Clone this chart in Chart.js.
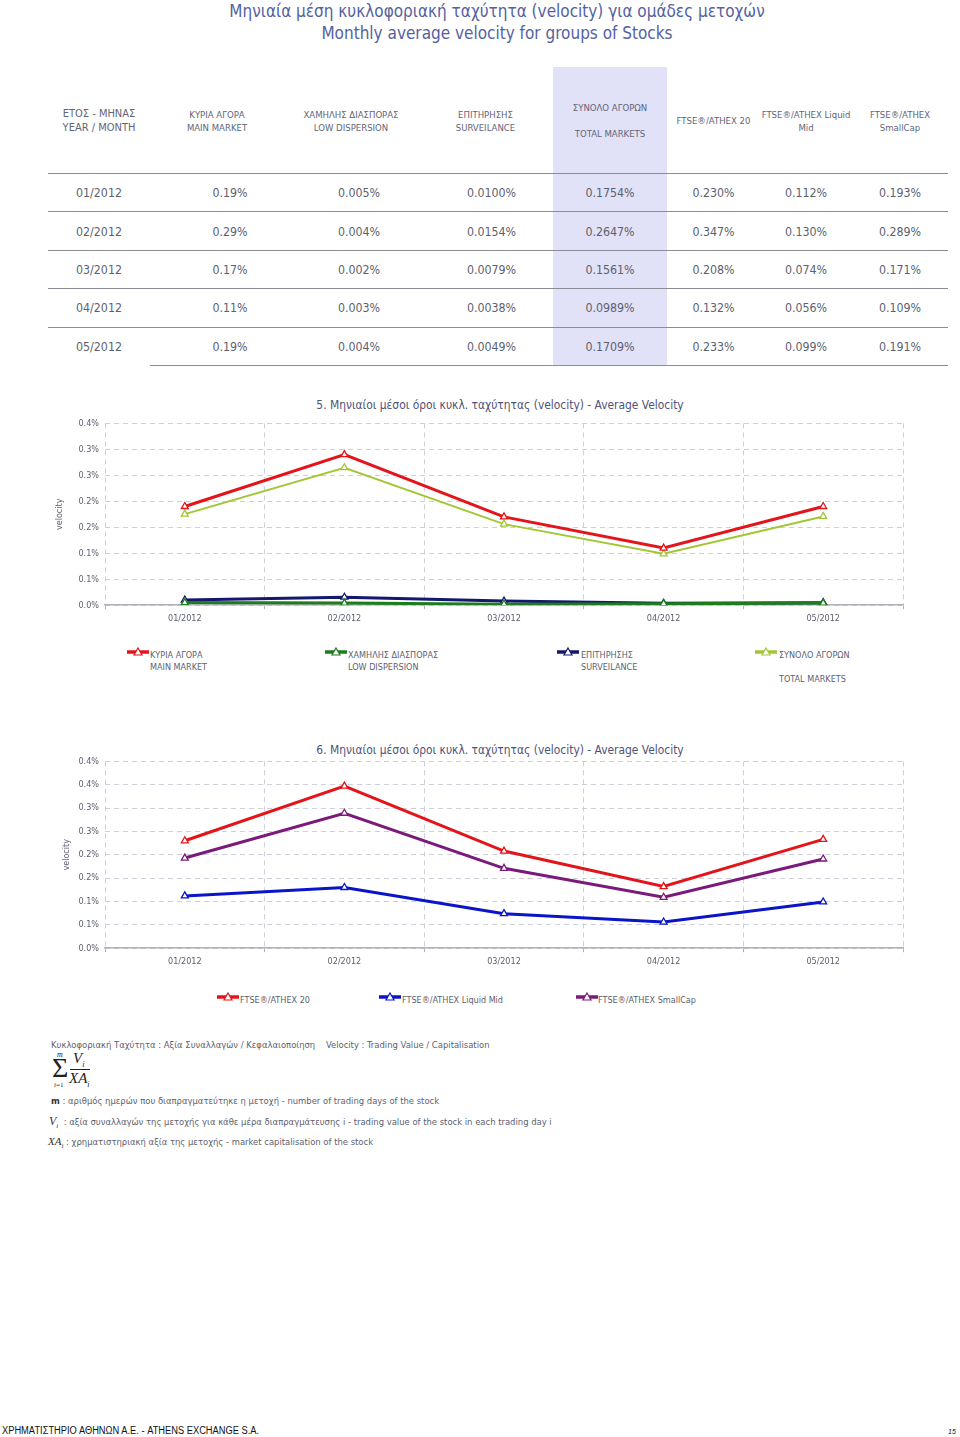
<!DOCTYPE html>
<html>
<head>
<meta charset="utf-8">
<script src="https://cdn.jsdelivr.net/npm/chart.js@4.4.0/dist/chart.umd.min.js"></script>
<style>
  body { margin: 0; background: #fff; width: 960px; height: 1437px; position: relative; overflow: hidden;
         font-family: "DejaVu Sans Condensed", "DejaVu Sans", sans-serif; color: #5c5f70; }
  .abs { position: absolute; }
  #title { left: 0; width: 994px; top: 0; text-align: center; color: #5462a0; font-size: 17px; line-height: 22px; }
  table { position: absolute; left: 48px; top: 67px; width: 900px; border-collapse: collapse; table-layout: fixed; }
  th { font-weight: normal; font-size: 9.5px; line-height: 13px; height: 105px; color: #62657a; padding: 1px 0 0 0;
       border-bottom: 1.5px solid #8c8c96; }
  td { font-size: 12.3px; height: 36.4px; text-align: center; padding: 1px 0 0 0; border-bottom: 1.5px solid #8c8c96; color: #5c5f70; }
  tr:last-child td.first { border-bottom: none; }
  .shade { background: #e1e1f7; }
  .ctitle { left: 0; width: 1000px; text-align: center; font-size: 11.9px; color: #4f5377; }
  .leg { font-size: 9px; line-height: 12px; color: #5c5f70; }
  .leg svg { position: absolute; left: 0; top: -3px; }
  .note { font-size: 9.4px; color: #5c5f70; white-space: nowrap; }
</style>
</head>
<body>
<div id="title" class="abs">Μηνιαία μέση κυκλοφοριακή ταχύτητα (velocity) για ομάδες μετοχών<br>Monthly average velocity for groups of Stocks</div>

<table id="tbl">
  <colgroup>
    <col style="width:102px"><col style="width:134px"><col style="width:134px"><col style="width:135px">
    <col style="width:114px"><col style="width:93px"><col style="width:92px"><col style="width:96px">
  </colgroup>
  <thead>
    <tr>
      <th style="font-size:11px;line-height:14px">ΕΤΟΣ - ΜΗΝΑΣ<br>YEAR / MONTH</th>
      <th>ΚΥΡΙΑ ΑΓΟΡΑ<br>MAIN MARKET</th>
      <th>ΧΑΜΗΛΗΣ ΔΙΑΣΠΟΡΑΣ<br>LOW DISPERSION</th>
      <th>ΕΠΙΤΗΡΗΣΗΣ<br>SURVEILANCE</th>
      <th class="shade">ΣΥΝΟΛΟ ΑΓΟΡΩΝ<br><br>TOTAL MARKETS</th>
      <th>FTSE®/ATHEX 20</th>
      <th>FTSE®/ATHEX Liquid<br>Mid</th>
      <th>FTSE®/ATHEX<br>SmallCap</th>
    </tr>
  </thead>
  <tbody id="tbody"></tbody>
</table>

<div class="abs ctitle" style="top:398px">5. Μηνιαίοι μέσοι όροι κυκλ. ταχύτητας (velocity) - Average Velocity</div>
<canvas id="chart1" class="abs" style="left:50px;top:412px"></canvas>
<div id="legend1"></div>

<div class="abs ctitle" style="top:743px">6. Μηνιαίοι μέσοι όροι κυκλ. ταχύτητας (velocity) - Average Velocity</div>
<canvas id="chart2" class="abs" style="left:57px;top:750px"></canvas>
<div id="legend2"></div>

<div class="abs note" style="left:51px;top:1039px">Κυκλοφοριακή Ταχύτητα : Αξία Συναλλαγών / Κεφαλαιοποίηση &nbsp;&nbsp; Velocity : Trading Value / Capitalisation</div>
<div class="abs" style="left:51px;top:1050px;width:50px;height:42px;font-family:'Liberation Serif',serif;color:#222">
  <span class="abs" style="left:6px;top:0px;font-size:8px;font-style:italic">m</span>
  <span class="abs" style="left:1px;top:3px;font-size:28px;line-height:30px">&Sigma;</span>
  <span class="abs" style="left:3px;top:31px;font-size:7px"><i>i</i>=1</span>
  <span class="abs" style="left:22px;top:0px;font-size:15px;font-style:italic">V<sub style="font-size:8px">i</sub></span>
  <span class="abs" style="left:19px;top:19px;width:20px;border-top:1px solid #222"></span>
  <span class="abs" style="left:18px;top:20px;font-size:15px;font-style:italic">XA<sub style="font-size:8px">i</sub></span>
</div>
<div class="abs note" style="left:51px;top:1095px"><b style="color:#333">m</b> : αριθμός ημερών που διαπραγματεύτηκε η μετοχή - number of trading days of the stock</div>
<div class="abs note" style="left:49px;top:1114px"><i style="font-family:'Liberation Serif',serif;font-size:12px;color:#333">V<sub style="font-size:7px">i</sub></i> &nbsp;: αξία συναλλαγών της μετοχής για κάθε μέρα διαπραγμάτευσης i - trading value of the stock in each trading day i</div>
<div class="abs note" style="left:48px;top:1135px"><i style="font-family:'Liberation Serif',serif;font-size:11px;color:#333">XA<sub style="font-size:7px">i</sub></i> : χρηματιστηριακή αξία της μετοχής - market capitalisation of the stock</div>

<div class="abs" style="left:2px;top:1425px;font-family:'Liberation Sans',sans-serif;font-size:10px;color:#111;transform:scaleX(0.93);transform-origin:0 0">ΧΡΗΜΑΤΙΣΤΗΡΙΟ ΑΘΗΝΩΝ Α.Ε. - ATHENS EXCHANGE S.A.</div>
<div class="abs" style="left:948px;top:1428px;font-family:'Liberation Sans',sans-serif;font-size:7px;font-style:italic;color:#111">15</div>

<script>
// months / categories
const months = ["01/2012", "02/2012", "03/2012", "04/2012", "05/2012"];

// velocity per market (%)
const mainMarket = [0.19, 0.29, 0.17, 0.11, 0.19];
const lowDispersion = [0.005, 0.004, 0.002, 0.003, 0.004];
const surveillance = [0.0100, 0.0154, 0.0079, 0.0038, 0.0049];
const totalMarkets = [0.1754, 0.2647, 0.1561, 0.0989, 0.1709];

// velocity per index (%)
const ftse20 = [0.230, 0.347, 0.208, 0.132, 0.233];
const liquidMid = [0.112, 0.130, 0.074, 0.056, 0.099];
const smallCap = [0.193, 0.289, 0.171, 0.109, 0.191];

// y tick labels as printed in the source
const yTicks1 = ["0.0%", "0.1%", "0.1%", "0.2%", "0.2%", "0.3%", "0.3%", "0.4%"];
const yTicks2 = ["0.0%", "0.1%", "0.1%", "0.2%", "0.2%", "0.3%", "0.3%", "0.4%", "0.4%"];

// table
const cols = [[mainMarket, 2, 26], [lowDispersion, 3, 16], [surveillance, 4, 12], [totalMarkets, 4, 0],
              [ftse20, 3, 0], [liquidMid, 3, 0], [smallCap, 3, 0]];
let rows = "";
months.forEach((m, i) => {
  rows += `<tr><td class="first">${m}</td>`;
  cols.forEach((c, j) => {
    rows += `<td class="${j == 3 ? 'shade' : ''}" style="padding-left:${c[2]}px">${c[0][i].toFixed(c[1])}%</td>`;
  });
  rows += "</tr>";
});
document.getElementById("tbody").innerHTML = rows;

function legendHtml(items, top) {
  return items.map(it => `<div class="abs leg" style="left:${it.x}px;top:${top}px;padding-left:${it.pad}px">
    <svg width="24" height="12"><line x1="1" y1="6" x2="23" y2="6" stroke="${it.color}" stroke-width="3.5"/>
    <polygon points="12,2 16,9 8,9" fill="#fff" stroke="${it.color}" stroke-width="1.2"/></svg>${it.text}</div>`).join("");
}
document.getElementById("legend1").innerHTML = legendHtml([
  { x: 126, pad: 24, color: "#e3151a", text: "ΚΥΡΙΑ ΑΓΟΡΑ<br>MAIN MARKET" },
  { x: 324, pad: 24, color: "#1d7d1d", text: "ΧΑΜΗΛΗΣ ΔΙΑΣΠΟΡΑΣ<br>LOW DISPERSION" },
  { x: 556, pad: 25, color: "#14186e", text: "ΕΠΙΤΗΡΗΣΗΣ<br>SURVEILANCE" },
  { x: 754, pad: 25, color: "#a2c736", text: "ΣΥΝΟΛΟ ΑΓΟΡΩΝ<br><br>TOTAL MARKETS" }
], 649);
document.getElementById("legend2").innerHTML = legendHtml([
  { x: 216, pad: 24, color: "#e3151a", text: "FTSE®/ATHEX 20" },
  { x: 378, pad: 24, color: "#0a14c8", text: "FTSE®/ATHEX Liquid Mid" },
  { x: 575, pad: 23, color: "#7b1a7b", text: "FTSE®/ATHEX SmallCap" }
], 994);

Chart.defaults.font.family = "'DejaVu Sans Condensed', 'DejaVu Sans', sans-serif";
Chart.defaults.color = "#5c5f70";

function ds(label, data, color, width) {
  return {
    label: label, data: data, borderColor: color, borderWidth: width,
    pointStyle: "triangle", pointRadius: 4, pointBackgroundColor: "#fff",
    pointBorderColor: color, pointBorderWidth: 1.3, tension: 0
  };
}

function opts(max, ticks, yWidth) {
  return {
    responsive: false, animation: false,
    layout: { padding: { top: 0, right: 7, left: 0, bottom: 0 } },
    plugins: { legend: { display: false }, tooltip: { enabled: false } },
    scales: {
      x: {
        offset: true,
        grid: { offset: true, color: "#cfcfdc", tickLength: 4, tickColor: "#b0b0b8" },
        border: { color: "#b0b0b8", width: 1.5, dash: [5, 4] },
        ticks: { font: { size: 9 }, padding: 4, maxRotation: 0 }
      },
      y: {
        min: 0, max: max,
        afterFit: s => { s.width = yWidth; },
        afterBuildTicks: s => { s.ticks = ticks.map((t, i) => ({ value: i * 0.05 })); },
        grid: { color: "#cfcfdc", drawTicks: false },
        border: { display: false, dash: [5, 4] },
        ticks: { font: { size: 9 }, padding: 6, callback: (v, i) => ticks[i] },
        title: { display: true, text: "velocity", font: { size: 9 }, padding: { top: 4, bottom: 0 } }
      }
    }
  };
}

const c1 = document.getElementById("chart1");
c1.width = 860; c1.height = 216;
new Chart(c1, {
  type: "line",
  data: {
    labels: months,
    datasets: [
      ds("ΚΥΡΙΑ ΑΓΟΡΑ", mainMarket, "#e3151a", 3),
      ds("ΧΑΜΗΛΗΣ ΔΙΑΣΠΟΡΑΣ", lowDispersion, "#1d7d1d", 3),
      ds("ΕΠΙΤΗΡΗΣΗΣ", surveillance, "#14186e", 3),
      ds("ΣΥΝΟΛΟ ΑΓΟΡΩΝ", totalMarkets, "#a2c736", 2)
    ]
  },
  options: opts(0.35, yTicks1, 55)
});

const c2 = document.getElementById("chart2");
c2.width = 853; c2.height = 221;
new Chart(c2, {
  type: "line",
  data: {
    labels: months,
    datasets: [
      ds("FTSE®/ATHEX 20", ftse20, "#e3151a", 3),
      ds("FTSE®/ATHEX Liquid Mid", liquidMid, "#0a14c8", 3),
      ds("FTSE®/ATHEX SmallCap", smallCap, "#7b1a7b", 3)
    ]
  },
  options: opts(0.40, yTicks2, 48)
});
</script>
</body>
</html>
